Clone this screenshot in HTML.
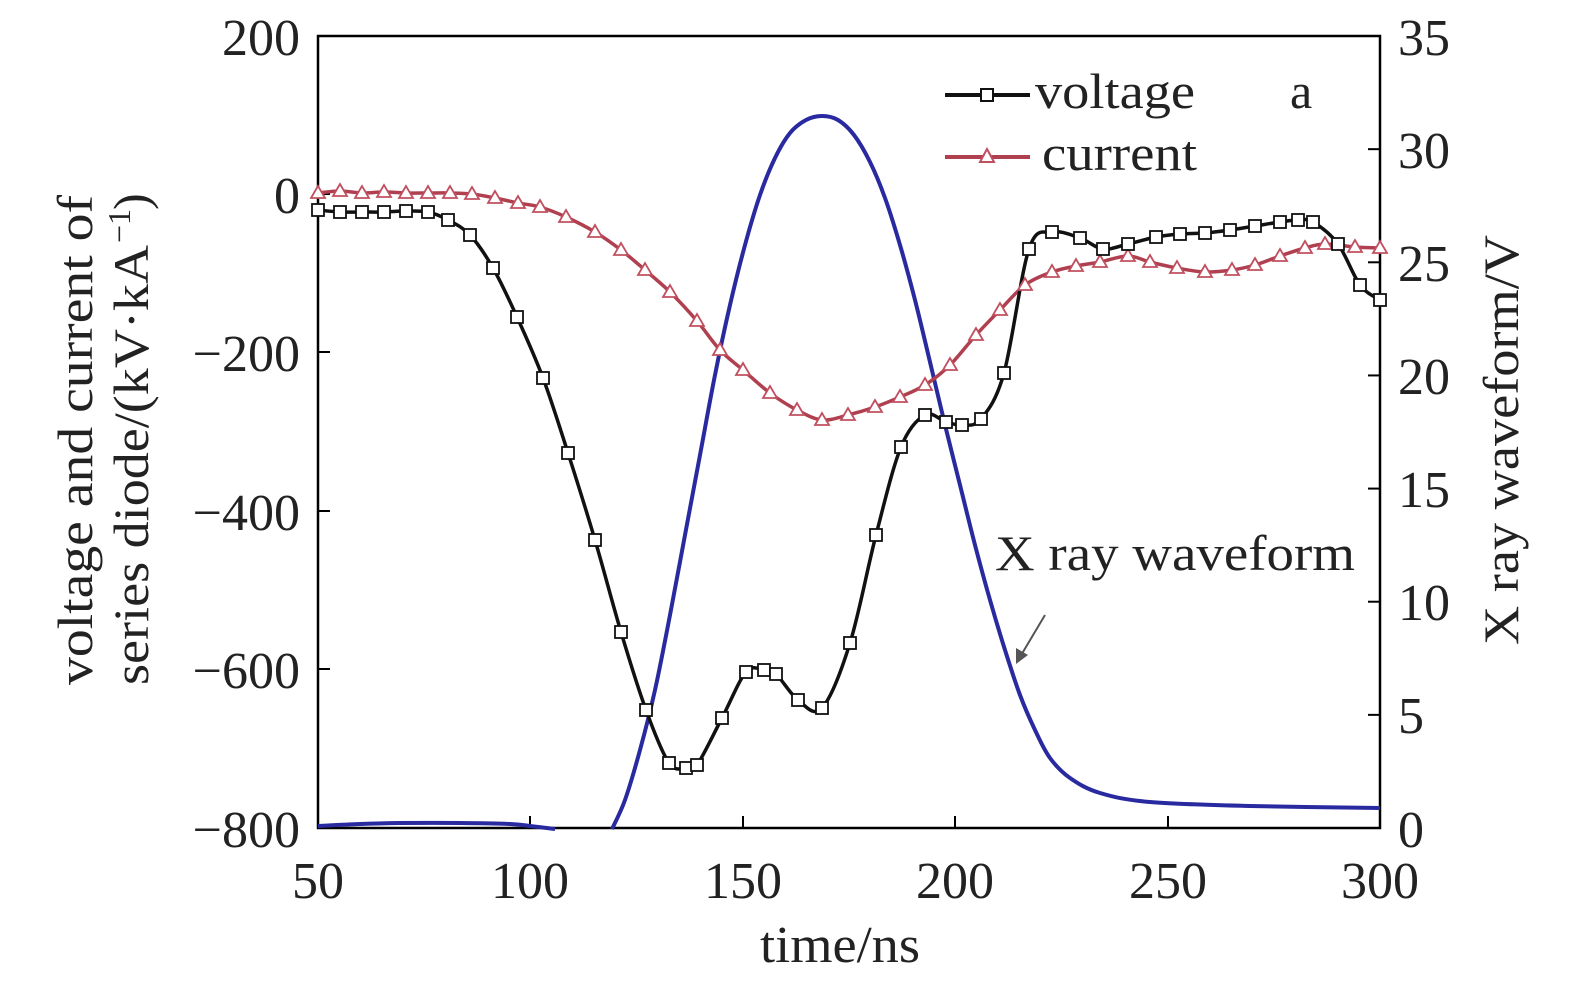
<!DOCTYPE html>
<html><head><meta charset="utf-8"><style>
html,body{margin:0;padding:0;background:#fff;}
svg{display:block;font-family:"Liberation Serif",serif;}
</style></head><body>
<svg id="s" width="1575" height="989" viewBox="0 0 1575 989" xmlns="http://www.w3.org/2000/svg">
<rect x="318" y="36" width="1062" height="792" fill="none" stroke="#000" stroke-width="2.5"/>
<g font-size="52" fill="#222" text-anchor="middle">
<text x="318" y="898">50</text><text x="530" y="898">100</text><text x="743" y="898">150</text>
<text x="955" y="898">200</text><text x="1168" y="898">250</text><text x="1380" y="898">300</text>
<text x="840" y="962" textLength="160" lengthAdjust="spacingAndGlyphs">time/ns</text>
</g>
<g font-size="52" fill="#222" text-anchor="end">
<text x="300" y="55">200</text><text x="300" y="213">0</text><text x="300" y="371">−200</text>
<text x="300" y="530">−400</text><text x="300" y="688">−600</text><text x="300" y="847">−800</text>
</g>
<g font-size="52" fill="#222" text-anchor="start">
<text x="1398" y="55">35</text><text x="1398" y="168">30</text><text x="1398" y="281">25</text>
<text x="1398" y="394">20</text><text x="1398" y="507">15</text><text x="1398" y="620">10</text>
<text x="1398" y="733">5</text><text x="1398" y="847">0</text>
</g>
<g font-size="50" fill="#222">
<text transform="translate(92,440) rotate(-90)" x="-245" textLength="490" lengthAdjust="spacingAndGlyphs">voltage and current of</text>
<text transform="translate(148,440) rotate(-90)" x="-245" textLength="440" lengthAdjust="spacingAndGlyphs">series diode/(kV·kA</text>
<text transform="translate(148,440) rotate(-90)" x="197" y="-18" font-size="32">−1</text>
<text transform="translate(148,440) rotate(-90)" x="230">)</text>
<text transform="translate(1518,440) rotate(-90)" x="-205" textLength="410" lengthAdjust="spacingAndGlyphs">X ray waveform/V</text>
</g>
<g id="ticks" stroke="#000" stroke-width="2"></g>
<g id="series"></g>
<line x1="1045" y1="615" x2="1020" y2="657" stroke="#555" stroke-width="2"/>
<polygon points="1016,664 1016,648 1028,655" fill="#555"/>
<text x="995" y="570" font-size="50" fill="#222" textLength="360" lengthAdjust="spacingAndGlyphs">X ray waveform</text>
<line x1="945" y1="95" x2="1030" y2="95" stroke="#111" stroke-width="4"/>
<rect x="981" y="89" width="12" height="12" fill="#fff" stroke="#111" stroke-width="2"/>
<text x="1035" y="108" font-size="50" fill="#222" textLength="160" lengthAdjust="spacingAndGlyphs">voltage</text>
<text x="1290" y="108" font-size="50" fill="#222">a</text>
<line x1="945" y1="157" x2="1030" y2="157" stroke="#b04050" stroke-width="4"/>
<polygon points="987,149 980,162 994,162" fill="#fff" stroke="#c05060" stroke-width="2"/>
<text x="1042" y="170" font-size="50" fill="#222" textLength="155" lengthAdjust="spacingAndGlyphs">current</text>
</svg>
<script>
const NS="http://www.w3.org/2000/svg";
const t=document.getElementById('ticks'),S=document.getElementById('series');
function L(x1,y1,x2,y2,p){const l=document.createElementNS(NS,'line');l.setAttribute('x1',x1);l.setAttribute('y1',y1);l.setAttribute('x2',x2);l.setAttribute('y2',y2);(p||t).appendChild(l);}
[318,530,743,955,1168,1380].forEach(x=>L(x,828,x,816));
[36,194,352,511,669,828].forEach(y=>L(318,y,330,y));
for(let i=0;i<=7;i++){const y=828-i*113.14;L(1380,y,1368,y);}
function smooth(p){let d='M'+p[0][0]+','+p[0][1];for(let i=0;i<p.length-1;i++){const a=p[Math.max(0,i-1)],b=p[i],c=p[i+1],e=p[Math.min(p.length-1,i+2)];d+=' C'+(b[0]+(c[0]-a[0])/6)+','+(b[1]+(c[1]-a[1])/6)+' '+(c[0]-(e[0]-b[0])/6)+','+(c[1]-(e[1]-b[1])/6)+' '+c[0]+','+c[1];}return d;}
function path(p,col,w){const e=document.createElementNS(NS,'path');e.setAttribute('d',smooth(p));e.setAttribute('fill','none');e.setAttribute('stroke',col);e.setAttribute('stroke-width',w);S.appendChild(e);}
const V=[[318,210],[340,212],[362,212],[384,212],[406,211],[428,212],[448,220],[470,235],[493,268],[517,317],[543,378],[568,453],[595,540],[621,632],[646,710],[669,763],[686,768],[697,765],[722,718],[746,672],[764,670],[776,674],[798,700],[822,708],[850,643],[876,535],[901,447],[925,415],[946,422],[962,425],[981,419],[1004,373],[1029,249],[1052,232],[1080,238],[1103,249],[1128,244],[1156,237],[1180,234],[1205,233],[1230,230],[1255,226],[1280,222],[1298,220],[1313,222],[1338,244],[1360,285],[1380,300]];
const C=[[318,193],[340,191],[362,193],[384,192],[406,193],[428,193],[450,193],[472,194],[495,198],[518,203],[540,207],[566,217],[595,232],[621,250],[645,270],[670,292],[697,321],[720,350],[743,370],[770,393],[797,410],[822,420],[848,415],[875,407],[900,397],[925,385],[950,365],[976,335],[1000,310],[1025,285],[1052,272],[1076,266],[1100,262],[1128,256],[1150,262],[1177,268],[1205,272],[1232,270],[1255,265],[1280,256],[1305,248],[1325,244],[1355,247],[1380,248]];
const X1=[[318,826],[360,824],[400,823],[460,823],[510,824],[530,826],[555,829]];
const X2=[[612,829],[625,800],[640,750],[655,690],[670,615],[685,535],[700,455],[715,375],[730,305],[745,245],[760,195],[775,158],[790,133],[806,120],[822,116],[838,120],[854,135],[870,162],[885,198],[900,245],[915,300],[930,362],[945,425],[960,485],[975,545],[990,600],[1005,650],[1020,695],[1035,730],[1050,758],[1070,778],[1100,793],[1150,802],[1250,806],[1380,808]];
path(X1,'#2a2aa0',4);path(X2,'#2a2aa0',4);
path(C,'#b04050',3.5);path(V,'#111',3.5);
C.forEach(([x,y])=>{const e=document.createElementNS(NS,'polygon');e.setAttribute('points',`${x},${y-7} ${x-7},${y+5} ${x+7},${y+5}`);e.setAttribute('fill','#fff');e.setAttribute('stroke','#c05060');e.setAttribute('stroke-width','1.8');S.appendChild(e);});
V.forEach(([x,y])=>{const e=document.createElementNS(NS,'rect');e.setAttribute('x',x-6);e.setAttribute('y',y-6);e.setAttribute('width',12);e.setAttribute('height',12);e.setAttribute('fill','#fff');e.setAttribute('stroke','#111');e.setAttribute('stroke-width','1.8');S.appendChild(e);});
</script>
</body></html>
